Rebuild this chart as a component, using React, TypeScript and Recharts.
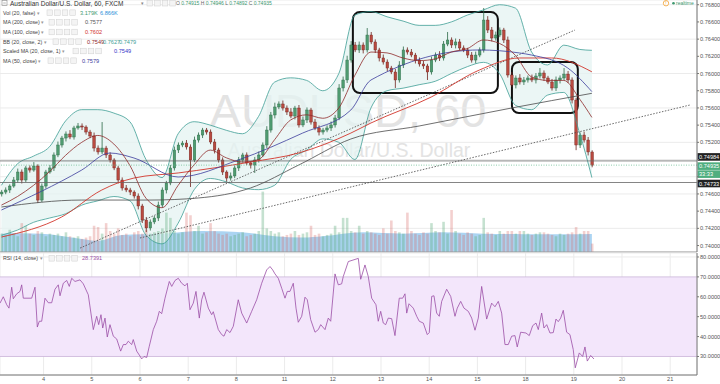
import React from "react";
import {
  ComposedChart,
  Bar,
  Line,
  Area,
  XAxis,
  YAxis,
  CartesianGrid,
  ReferenceLine,
  ReferenceArea,
  Cell,
} from "recharts";

const FONT = '"Liberation Sans", Arial, Helvetica, sans-serif';

// ---------------- axes ----------------
const dayLabels = ["4", "5", "6", "7", "8", "11", "12", "13", "14", "15", "18", "19", "20", "21"];
const dayTicks = [10.5, 22.5, 34.5, 46.5, 58.5, 70.5, 82.5, 94.5, 106.5, 118.5, 130.5, 142.5, 154.5, 166.5];
const priceTicks = [0.74, 0.742, 0.744, 0.746, 0.748, 0.75, 0.752, 0.754, 0.756, 0.758, 0.76, 0.762, 0.764, 0.766, 0.768];
const hiddenPriceTicks = [0.748, 0.75]; // covered by the price tags in the reference
const rsiTicks = [30, 40, 50, 60, 70, 80];

const X_DOMAIN: [number, number] = [-0.35, 173.17];
const PRICE_DOMAIN: [number, number] = [0.73925, 0.76855];
const VOL_DOMAIN: [number, number] = [0, 96];
const RSI_DOMAIN: [number, number] = [20.7, 82];

// ---------------- candles (2-hour bars) ----------------
const firstOpen = 0.746;
const closes = [
  0.74622, 0.74646, 0.74692, 0.74762, 0.74855, 0.74762, 0.74902, 0.74878, 0.74925, 0.74529,
  0.74692, 0.74855, 0.74902, 0.75053, 0.75169, 0.7525, 0.75297, 0.75262, 0.75367, 0.7539,
  0.75378, 0.7532, 0.75274, 0.75134, 0.75088, 0.75134, 0.75053, 0.74995, 0.74902, 0.74762,
  0.74669, 0.74646, 0.74622, 0.74576, 0.7446, 0.74297, 0.74204, 0.74274, 0.7432, 0.74471,
  0.74646, 0.74727, 0.74902, 0.75111, 0.75169, 0.75192, 0.75146, 0.74995, 0.75227, 0.75285,
  0.75343, 0.7532, 0.75204, 0.75111, 0.74995, 0.74855, 0.74785, 0.74809, 0.74902, 0.74995,
  0.75053, 0.7496, 0.74936, 0.74995, 0.75053, 0.75169, 0.75343, 0.75518, 0.75611, 0.75646,
  0.75599, 0.75553, 0.75506, 0.75599, 0.75402, 0.7546, 0.75576, 0.75436, 0.75367, 0.7532,
  0.75343, 0.75367, 0.75402, 0.75483, 0.75832, 0.75925, 0.76157, 0.76332, 0.76274, 0.76332,
  0.76274, 0.76448, 0.76367, 0.76274, 0.76181, 0.76134, 0.76064, 0.76018, 0.75925, 0.76099,
  0.76274, 0.7625, 0.76215, 0.76157, 0.76111, 0.76088, 0.76018, 0.76157, 0.76215, 0.76181,
  0.76343, 0.7639, 0.76332, 0.76367, 0.76297, 0.76274, 0.76215, 0.76157, 0.76215, 0.76274,
  0.76622, 0.76506, 0.76413, 0.76448, 0.76506, 0.7639, 0.75983, 0.75867, 0.75948, 0.75902,
  0.75925, 0.75948, 0.75925, 0.75971, 0.76006, 0.75948, 0.75902, 0.75832, 0.75925, 0.75948,
  0.75994, 0.75925, 0.75692, 0.75169, 0.75285, 0.75227, 0.75088, 0.74935,
];
// wick extensions in 1e-5 (pipettes)
const wickUp = [
  25, 30, 20, 35, 40, 30, 25, 30, 45, 20, 30, 25, 35, 30, 40, 25, 30, 45, 25, 35,
  30, 20, 25, 40, 30, 302, 25, 30, 20, 25, 30, 35, 25, 20, 30, 25, 35, 30, 25, 40,
  30, 25, 35, 40, 30, 25, 35, 30, 40, 30, 25, 24, 30, 35, 25, 30, 20, 40, 30, 35,
  25, 30, 20, 35, 40, 30, 45, 35, 50, 30, 40, 30, 45, 25, 35, 40, 30, 25, 35, 30,
  25, 30, 40, 35, 45, 40, 50, 45, 35, 40, 30, 81, 35, 30, 25, 40, 30, 25, 35, 45,
  40, 30, 35, 25, 30, 35, 25, 40, 30, 45, 35, 93, 30, 40, 35, 30, 25, 35, 40, 30,
  140, 45, 35, 40, 30, 25, 40, 35, 30, 45, 35, 30, 40, 35, 58, 30, 25, 35, 40, 30,
  70, 35, 30, 25, 30, 40, 35, 20,
];
const wickDown = [
  30, 25, 35, 20, 30, 40, 25, 30, 20, 35, 25, 30, 20, 35, 25, 30, 40, 25, 30, 20,
  35, 30, 25, 40, 30, 25, 35, 30, 25, 40, 30, 25, 35, 30, 40, 35, 47, 30, 25, 35,
  30, 40, 25, 30, 35, 25, 30, 314, 25, 30, 35, 30, 25, 40, 30, 35, 45, 30, 25, 35,
  30, 25, 40, 92, 30, 25, 35, 30, 40, 25, 30, 35, 25, 40, 30, 25, 35, 30, 25, 40,
  30, 25, 35, 30, 25, 40, 35, 30, 25, 35, 40, 30, 25, 35, 40, 30, 35, 25, 93, 30,
  35, 30, 25, 40, 30, 35, 93, 30, 25, 35, 30, 25, 35, 40, 30, 25, 35, 30, 40, 25,
  30, 35, 40, 30, 25, 35, 30, 25, 40, 30, 35, 30, 25, 40, 30, 35, 25, 30, 35, 40,
  30, 35, 40, 60, 35, 30, 40, 25,
];
// volume in thousands
const volumes = [
  7, 6.5, 8.5, 7, 6, 11, 10, 7, 6.5, 8, 7.5, 6, 7, 6.5, 7, 6, 7.5, 6, 5.5, 6,
  5, 5.5, 6, 10, 9.5, 7, 11, 8, 7, 9, 6.5, 7, 6, 7.5, 8, 7, 8.5, 7, 7.5, 8,
  9, 15, 13, 8, 7, 7.5, 15, 14, 8, 10, 7, 7.5, 11, 8, 7, 6.5, 7, 6, 6.5, 7,
  7.5, 6, 6.5, 7, 8, 23, 9, 8, 7, 7.5, 6, 6.5, 7, 8, 6.5, 7, 7.5, 10, 6.5, 7,
  6, 6.5, 7, 10, 7.5, 13, 13, 8, 7.5, 10, 7, 8, 7.5, 7, 6.5, 9, 7, 12, 8, 7.5,
  7, 15, 8, 7, 6.5, 7.5, 7, 11, 8, 7.5, 11.5, 7, 16, 8, 7, 6.5, 7.5, 7, 6, 6.5,
  13, 7.5, 7, 6.5, 8, 7, 8, 8, 7, 8, 8, 7, 6.5, 7, 7.5, 7.5, 7, 6.5, 6, 7,
  6.5, 7, 7.5, 9.5, 7, 8, 8, 3.2,
];
const volMA: [number, number][] = [
  [0, 7.2], [10, 7], [20, 5], [24, 4.3], [30, 6.5], [40, 7], [50, 8], [60, 7.5], [68, 6],
  [75, 5.5], [80, 6], [90, 7.5], [100, 7], [110, 7.5], [120, 7], [130, 6.8], [140, 6.8], [147, 6.87],
];

// ---------------- indicators ----------------
const ma200: [number, number][] = [
  [0, 0.74448], [20, 0.74529], [37, 0.74529], [49, 0.74553], [62, 0.74669], [74, 0.74936],
  [87, 0.75239], [104, 0.7539], [127, 0.75599], [147, 0.7577],
];
const ma100: [number, number][] = [
  [0, 0.74099], [15, 0.74332], [25, 0.74646], [33, 0.74785], [44, 0.74844], [62, 0.74971],
  [74, 0.75076], [87, 0.75308], [92, 0.75425], [107, 0.75727], [119, 0.76041], [129, 0.76181],
  [137, 0.76181], [147, 0.7602],
];
const ma50: [number, number][] = [
  [0, 0.74413], [20, 0.74878], [27, 0.75076], [33, 0.75018], [44, 0.74797], [59, 0.74995],
  [75, 0.75308], [87, 0.75576], [92, 0.75925], [119, 0.76274], [129, 0.76239], [132, 0.76215],
  [141, 0.76064], [147, 0.7579],
];
const bbK = [0, 4, 8, 12, 16, 20, 24, 28, 32, 36, 40, 44, 48, 52, 56, 60, 64, 68, 72, 76, 80, 84, 88, 92, 96, 100, 104, 108, 112, 116, 120, 124, 128, 132, 136, 140, 144, 147];
const bbUpper = [
  0.747, 0.7495, 0.7504, 0.7515, 0.7545, 0.7558, 0.7558, 0.7554, 0.7544, 0.75, 0.7479, 0.753, 0.7544,
  0.754, 0.7534, 0.753, 0.755, 0.759, 0.7595, 0.7592, 0.758, 0.76, 0.7668, 0.7672, 0.7666, 0.7661,
  0.7656, 0.7656, 0.766, 0.7668, 0.7674, 0.768, 0.7676, 0.7625, 0.761, 0.7633, 0.7628, 0.7627,
];
const bbLower = [
  0.7412, 0.7418, 0.7427, 0.7432, 0.7437, 0.7447, 0.7452, 0.7457, 0.7452, 0.7412, 0.7402, 0.7426, 0.7465,
  0.7478, 0.7474, 0.7467, 0.7465, 0.747, 0.75, 0.7511, 0.7524, 0.752, 0.75, 0.756, 0.758, 0.7583,
  0.7587, 0.7591, 0.76, 0.7608, 0.7613, 0.76, 0.7563, 0.7558, 0.7575, 0.7578, 0.753, 0.7479,
];
const bbBasis = [
  0.7447, 0.7457, 0.747, 0.7486, 0.7505, 0.752, 0.7528, 0.7518, 0.7493, 0.7455, 0.7444, 0.747, 0.7494,
  0.7511, 0.7502, 0.7497, 0.75, 0.7523, 0.7546, 0.7552, 0.7548, 0.756, 0.7598, 0.7625, 0.7624, 0.7618,
  0.7615, 0.7617, 0.7625, 0.7629, 0.7639, 0.7635, 0.7621, 0.7596, 0.7592, 0.7592, 0.757, 0.7549,
];

// RSI (14) readings: [bar position, value]
const rsi: [number, number][] = [
  [-0.35, 56.8], [0.47, 60], [1.32, 56], [1.89, 54.3], [2.56, 64.8], [2.96, 59], [3.81, 61.5], [4.63, 62.7],
  [5.05, 66], [5.45, 59.3], [7.54, 59.3], [8.36, 64.8], [8.94, 44.8], [9.43, 47.7], [10.03, 47.7], [10.85, 59.3],
  [11.68, 57], [12.52, 57], [13.34, 63.8], [14.16, 66], [14.59, 60.5], [15.41, 66.8], [16.26, 68.2], [16.9, 65.2],
  [17.5, 69.3], [18.32, 67.7], [19.57, 68.5], [20.39, 66.5], [21.63, 61], [22.88, 43.5], [23.72, 50.2], [24.22, 46],
  [24.79, 51], [25.22, 44.3], [25.79, 49.3], [26.36, 39.8], [27.03, 46], [27.86, 40.2], [28.7, 38.8], [29.69, 32.7],
  [30.35, 36], [31.02, 36], [31.59, 37.7], [32.44, 36], [32.83, 38.5], [33.68, 32.7], [34.5, 30.2], [34.93, 28.8],
  [35.5, 30], [36.17, 29.5], [36.82, 35.2], [37.81, 43.5], [38.66, 47.7], [39.31, 52.7], [39.9, 51.5], [40.73, 59.3],
  [41.8, 67.7], [42.4, 65.2], [43.22, 68.2], [44.04, 69.3], [44.88, 66.8], [45.7, 65.5], [46.28, 66.8], [46.95, 53.5],
  [47.77, 56.8], [48.44, 62.7], [49.27, 49.3], [49.86, 58.5], [50.43, 62.3], [51.51, 54.3], [52.35, 51], [52.75, 52.5],
  [54, 43.5], [54.84, 41], [55.41, 40.2], [56.09, 43.5], [56.91, 42], [57.73, 45.2], [58.97, 58.5], [59.82, 51.8],
  [61.06, 46.8], [62.31, 52.7], [63.55, 58.5], [64.8, 66.8], [66.04, 73.5], [66.87, 75.2], [67.54, 73.5], [68.11, 71.5],
  [68.93, 69.3], [69.78, 64.3], [70.6, 59.3], [71.17, 62.7], [71.84, 62.7], [72.66, 66.8], [73.34, 54.3], [73.91, 47.2],
  [74.76, 50.2], [75.58, 59.8], [76.15, 58.5], [77, 48.5], [78.07, 42.2], [78.89, 43.5], [79.49, 46], [80.56, 43.5],
  [81.38, 49.3], [81.98, 47.7], [83.05, 71.5], [83.87, 66], [84.71, 66.5], [85.11, 70.2], [86.36, 77.7], [88.85, 79.3],
  [89.45, 68.8], [90.51, 76], [91.33, 70.2], [92.18, 59.3], [93.25, 56], [93.82, 47.7], [94.42, 52.7], [95.07, 46.8],
  [95.67, 46], [96.31, 49.3], [97.16, 49], [97.98, 40.5], [99.05, 59.3], [99.9, 59.3], [100.47, 61.5], [100.9, 51.8],
  [101.47, 56.5], [102.54, 54.3], [103.39, 50.2], [104.03, 47.7], [105.03, 46.8], [106.02, 41], [106.52, 42], [107.12, 60.2],
  [107.69, 60.5], [108.36, 51.8], [109.01, 50.2], [109.61, 57.7], [110.85, 63.8], [111.85, 60.2], [112.92, 50.2], [113.49, 54.3],
  [114.34, 57.7], [115.16, 54.3], [116.23, 52.7], [117.08, 49.3], [117.9, 43.2], [118.72, 49.3], [119.56, 65.2], [120.81, 48.8],
  [122.05, 56.8], [122.87, 55], [123.7, 57.7], [124.54, 51.8], [125.36, 36], [126.18, 36], [127.03, 40.2], [127.85, 40.5],
  [128.42, 34.8], [129.27, 42.2], [130.59, 41.8], [131.41, 40.5], [132.26, 45.5], [133.09, 46.8], [133.66, 43.5], [134.5, 51.8],
  [135.07, 44.3], [135.75, 46], [136.57, 41.8], [137.39, 42], [138.06, 48.8], [138.63, 47.5], [139.23, 49.3], [139.88, 53.2],
  [140.72, 42.2], [141.54, 41], [142.36, 33.5], [142.86, 24.3], [143.86, 31.8], [144.71, 30], [145.28, 34.8], [145.86, 27.7],
  [146.7, 30.5], [147.52, 28.74],
];

// drawn annotations
const trendA = [{ x: 19.6, y: 0.73971 }, { x: 142.8, y: 0.76506 }];
const trendB = [{ x: 34.5, y: 0.74088 }, { x: 171.4, y: 0.75634 }];
const boxes = [
  { x1: 87.5, x2: 123.6, y1: 0.75774, y2: 0.76715 },
  { x1: 127.1, x2: 143.5, y1: 0.75541, y2: 0.76134 },
];
const levelHigh = 0.74984;
const levelLow = 0.74733;
const lastPrice = 0.74935;
const countdown = "33:33";

// texts
const titleText = "Australian Dollar/U.S. Dollar, 60, FXCM";
const ohlcText = [["O", "0.74915"], ["H", "0.74946"], ["L", "0.74892"], ["C", "0.74935"]];
const legendNames = ["Vol (20, false)", "MA (200, close)", "MA (100, close)", "BB (20, close, 2)", "Scaled MA (20, close, 1)", "MA (50, close)"];
const legendValues = [["3.179K", "6.866K"], ["0.7577"], ["0.7602"], ["0.7549", "0.7627", "0.7479"], ["0.7549"], ["0.7579"]];
const rsiName = "RSI (14, close)";
const rsiValue = "28.7391";
const watermark1 = "AUDUSD, 60";
const watermark2 = "Australian Dollar/U.S. Dollar";

// ---------------- styling / layout ----------------
const C = {
  upFill: "#4f9b70",
  upEdge: "#2c6a46",
  dnFill: "#b94a40",
  dnEdge: "#6e211b",
  ma200: "#4a4a4a",
  ma100: "#d2352b",
  ma50: "#3b3b9c",
  bbBand: "#3f9e96",
  bbBasis: "#8f2a2a",
  bbFill: "#e4f3f2",
  volArea: "#9ccdf0",
  volUp: "rgba(90,170,120,0.35)",
  volDn: "rgba(215,100,95,0.3)",
  rsi: "#9a4ea6",
  grid: "#ebebeb",
  axis: "#777",
  text: "#555",
};
const LEG = {
  rowY: [12.7, 22.3, 32, 41.7, 51, 60.7],
  boxX: [47, 49, 49, 53, 73, 48],
  valX: [[80, 100], [85], [85], [87, 103, 119], [114], [82]],
  valColor: [["#3d9970", "#2a8fd8"], ["#555"], [C.ma100], [C.bbBasis, C.bbBand, C.bbBand], ["#3636c8"], [C.ma50]],
};

const candleRows = closes.map((c, i) => {
  const o = i === 0 ? firstOpen : closes[i - 1];
  return {
    k: i,
    o,
    c,
    h: Math.max(o, c) + wickUp[i] * 1e-5,
    l: Math.min(o, c) - wickDown[i] * 1e-5,
    vol: volumes[i],
  };
});
const pairRows = (arr: [number, number][]) => arr.map(([k, v]) => ({ k, v }));
const bbRows = bbK.map((k, i) => ({ k, up: bbUpper[i], lo: bbLower[i], mid: bbBasis[i] }));

const Candle = (props: any) => {
  const { x, width, payload } = props;
  let { y, height } = props;
  if (payload == null || y == null) return null;
  if (height < 0) {
    y += height;
    height = -height;
  }
  const { o, c, h, l } = payload;
  const up = c >= o;
  const span = h - l || 1e-9;
  const yOf = (v: number) => y + ((h - v) / span) * height;
  const yo = yOf(o);
  const yc = yOf(c);
  const top = Math.min(yo, yc);
  const bh = Math.max(Math.abs(yc - yo), 0.8);
  const cx = x + width / 2;
  const edge = up ? C.upEdge : C.dnEdge;
  return (
    <g>
      <line x1={cx} x2={cx} y1={y} y2={y + height} stroke={edge} strokeWidth={0.8} />
      <rect x={x} y={top} width={width} height={bh} fill={up ? C.upFill : C.dnFill} stroke={edge} strokeWidth={0.4} />
    </g>
  );
};

const tag = (text: string, bg: string, dy: number, extra?: { text: string; dy: number }) => (props: any) => {
  const vb = props.viewBox || {};
  const x0 = (vb.x || 0) + (vb.width || 0) + 0.5;
  const y0 = vb.y || 0;
  const draw = (t: string, d: number) => (
    <g key={t}>
      <rect x={x0} y={y0 + d - 3.8} width={22.5} height={7.6} fill={bg} />
      <text x={x0 + 1.5} y={y0 + d + 2} fontSize={5.6} fill="#fff" fontFamily={FONT}>
        {t}
      </text>
    </g>
  );
  return (
    <g>
      {draw(text, dy)}
      {extra ? draw(extra.text, extra.dy) : null}
    </g>
  );
};

const RoundBox = (p: any) => (
  <rect x={p.x} y={p.y} width={p.width} height={p.height} rx={7} ry={7} fill="none" stroke="#111" strokeWidth={2} />
);

const dayLabelFor = (v: number) => {
  const i = dayTicks.indexOf(v);
  return i >= 0 ? dayLabels[i] : "";
};
const priceLabelFor = (v: number) => (hiddenPriceTicks.some((h) => Math.abs(h - v) < 1e-7) ? "" : v.toFixed(5));

const MiniBoxes = ({ x, cy }: { x: number; cy: number }) => (
  <g>
    {[0, 1, 2, 3].map((i) => (
      <rect key={i} x={x + i * 7.6} y={cy - 2.8} width={5.6} height={5.6} fill="#f4f4f4" stroke="#cfcfcf" strokeWidth={0.5} />
    ))}
  </g>
);

const lineCommon = { dot: false, activeDot: false, isAnimationActive: false, legendType: "none" as const };

export default function App() {
  const abs: React.CSSProperties = { position: "absolute", left: 0, top: 0 };
  return (
    <div style={{ position: "absolute", left: 0, top: 0, width: 720, height: 384, background: "#fff", fontFamily: FONT, overflow: "hidden" }}>
      {/* watermark underlay */}
      <svg width={720} height={252} style={{ ...abs, zIndex: 0 }}>
        <text x={348} y={127} textAnchor="middle" fontSize={47} fill="#e3e3e3" fontFamily={FONT}>
          {watermark1}
        </text>
        <text x={349} y={157} textAnchor="middle" fontSize={19.5} fill="#e3e3e3" fontFamily={FONT}>
          {watermark2}
        </text>
      </svg>

      {/* main price pane */}
      <div style={{ ...abs, zIndex: 1 }}>
        <ComposedChart width={720} height={253} data={candleRows} margin={{ top: 0, right: 0, bottom: 0, left: 0 }} barGap={-2.6}>
          <CartesianGrid stroke={C.grid} yAxisId="price" />
          <XAxis
            dataKey="k"
            type="number"
            domain={X_DOMAIN}
            ticks={dayTicks}
            allowDataOverflow
            height={1}
            tick={false}
            tickLine={false}
            axisLine={{ stroke: "#9a9a9a" }}
          />
          <YAxis
            yAxisId="price"
            orientation="right"
            width={23}
            domain={PRICE_DOMAIN}
            ticks={priceTicks}
            allowDataOverflow
            tickFormatter={priceLabelFor}
            tick={{ fontSize: 5.6, fill: C.text, fontFamily: FONT }}
            tickSize={2}
            tickMargin={1}
            axisLine={{ stroke: C.axis }}
            tickLine={{ stroke: C.axis }}
          />
          <YAxis yAxisId="vol" hide domain={VOL_DOMAIN} allowDataOverflow />

          <Area yAxisId="vol" data={pairRows(volMA)} dataKey="v" type="monotone" fill={C.volArea} fillOpacity={0.85} stroke="none" {...lineCommon} />
          <Bar yAxisId="vol" dataKey="vol" barSize={2.6} isAnimationActive={false}>
            {candleRows.map((r, i) => (
              <Cell key={i} fill={r.c >= r.o ? C.volUp : C.volDn} />
            ))}
          </Bar>

          <Area
            yAxisId="price"
            data={bbRows}
            dataKey={(d: any) => [d.lo, d.up]}
            type="monotone"
            fill={C.bbFill}
            fillOpacity={0.75}
            stroke="none"
            {...lineCommon}
          />
          <Line yAxisId="price" data={bbRows} dataKey="up" type="monotone" stroke={C.bbBand} strokeWidth={0.8} {...lineCommon} />
          <Line yAxisId="price" data={bbRows} dataKey="lo" type="monotone" stroke={C.bbBand} strokeWidth={0.8} {...lineCommon} />

          <ReferenceLine yAxisId="price" y={levelHigh} stroke="#666" strokeWidth={0.8} label={tag("0.74984", "#222", -4)} />
          <ReferenceLine yAxisId="price" y={levelLow} stroke="#666" strokeWidth={0.8} label={tag("0.74733", "#222", 1)} />
          <ReferenceLine yAxisId="price" segment={trendA} stroke="#444" strokeWidth={0.8} strokeDasharray="1.5 1.5" ifOverflow="visible" />
          <ReferenceLine yAxisId="price" segment={trendB} stroke="#444" strokeWidth={0.8} strokeDasharray="1.5 1.5" ifOverflow="visible" />

          <Line yAxisId="price" data={pairRows(ma200)} dataKey="v" type="monotone" stroke={C.ma200} strokeWidth={0.8} {...lineCommon} />
          <Line yAxisId="price" data={pairRows(ma100)} dataKey="v" type="monotone" stroke={C.ma100} strokeWidth={0.9} {...lineCommon} />
          <Line yAxisId="price" data={pairRows(ma50)} dataKey="v" type="monotone" stroke={C.ma50} strokeWidth={0.8} {...lineCommon} />
          <Line yAxisId="price" data={bbRows} dataKey="mid" type="monotone" stroke={C.bbBasis} strokeWidth={0.8} {...lineCommon} />

          <Bar yAxisId="price" dataKey={(d: any) => [d.l, d.h]} barSize={2.6} shape={Candle} isAnimationActive={false} />

          <ReferenceLine
            yAxisId="price"
            y={lastPrice}
            stroke="#6cc197"
            strokeWidth={0.8}
            strokeDasharray="1 1.5"
            label={tag("0.74935", "#4fae7f", 1, { text: countdown, dy: 9 })}
          />
          {boxes.map((b, i) => (
            <ReferenceArea key={i} yAxisId="price" x1={b.x1} x2={b.x2} y1={b.y1} y2={b.y2} shape={RoundBox} ifOverflow="visible" />
          ))}
        </ComposedChart>
      </div>

      {/* RSI pane */}
      <div style={{ position: "absolute", left: 0, top: 252, zIndex: 1 }}>
        <ComposedChart width={720} height={132} data={pairRows(rsi)} margin={{ top: 1, right: 0, bottom: 0, left: 0 }}>
          <ReferenceArea y1={30} y2={70} fill="#f3e6fb" fillOpacity={1} stroke="none" />
          <CartesianGrid stroke={C.grid} />
          <ReferenceLine y={70} stroke="#c9b4d8" strokeWidth={0.8} />
          <ReferenceLine y={30} stroke="#c9b4d8" strokeWidth={0.8} />
          <XAxis
            dataKey="k"
            type="number"
            domain={X_DOMAIN}
            ticks={dayTicks}
            allowDataOverflow
            height={9}
            tickFormatter={dayLabelFor}
            tick={{ fontSize: 5.6, fill: C.text, fontFamily: FONT }}
            tickSize={2}
            tickMargin={0.5}
            tickLine={false}
            axisLine={{ stroke: C.axis }}
          />
          <YAxis
            orientation="right"
            width={23}
            domain={RSI_DOMAIN}
            ticks={rsiTicks}
            allowDataOverflow
            tickFormatter={(v: number) => v.toFixed(4)}
            tick={{ fontSize: 5.6, fill: C.text, fontFamily: FONT }}
            tickSize={2}
            tickMargin={1}
            axisLine={{ stroke: C.axis }}
            tickLine={{ stroke: C.axis }}
          />
          <Line dataKey="v" type="linear" stroke={C.rsi} strokeWidth={0.8} {...lineCommon} />
        </ComposedChart>
      </div>

      {/* legends overlay */}
      <svg width={720} height={384} style={{ ...abs, zIndex: 2, pointerEvents: "none" }}>
        <rect x={2} y={0.5} width={5} height={5} fill="none" stroke="#888" strokeWidth={0.6} />
        <line x1={3.2} x2={5.8} y1={3} y2={3} stroke="#888" strokeWidth={0.6} />
        <text x={10} y={5.6} fontSize={6.5} fill="#333" fontFamily={FONT}>
          {titleText}
        </text>
        <text x={141} y={5.4} fontSize={5} fill="#888" fontFamily={FONT}>▾</text>
        <MiniBoxes x={147} cy={3.2} />
        <text x={176} y={5.3} fontSize={5} fontFamily={FONT}>
          {ohlcText.map(([l, v], i) => (
            <tspan key={i}>
              <tspan fill="#666">{(i ? "  " : "") + l + " "}</tspan>
              <tspan fill="#3d9970">{v}</tspan>
            </tspan>
          ))}
        </text>
        {legendNames.map((name, i) => (
          <g key={name}>
            <text x={3} y={LEG.rowY[i] + 1.9} fontSize={5.3} fill="#444" fontFamily={FONT}>
              {name}
              <tspan fill="#999"> ▾</tspan>
            </text>
            <MiniBoxes x={LEG.boxX[i]} cy={LEG.rowY[i]} />
            {legendValues[i].map((v, j) => (
              <text key={j} x={LEG.valX[i][j]} y={LEG.rowY[i] + 1.9} fontSize={5.6} fill={LEG.valColor[i][j]} fontFamily={FONT}>
                {v}
              </text>
            ))}
          </g>
        ))}
        <text x={3} y={260.2} fontSize={5.3} fill="#444" fontFamily={FONT}>
          {rsiName}
          <tspan fill="#999"> ▾</tspan>
        </text>
        <MiniBoxes x={49} cy={258.3} />
        <text x={82} y={260.2} fontSize={5.6} fill={C.rsi} fontFamily={FONT}>
          {rsiValue}
        </text>
        {/* realtime badge */}
        <circle cx={666} cy={3.2} r={2.7} fill="#fff" stroke="#f0a030" strokeWidth={0.8} />
        <text x={666} y={5} textAnchor="middle" fontSize={4.5} fill="#f0a030" fontFamily={FONT}>!</text>
        <circle cx={673.5} cy={3.3} r={1.3} fill="#3d9970" />
        <text x={676} y={5.2} fontSize={5} fill="#3d9970" fontFamily={FONT}>realtime</text>
      </svg>
    </div>
  );
}
